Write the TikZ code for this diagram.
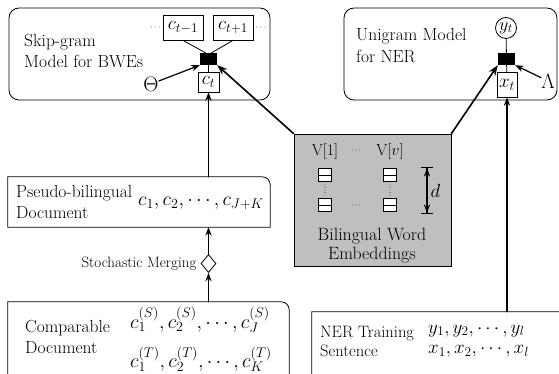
\RequirePackage{fix-cm}
\documentclass[tikz,border=0pt]{standalone}
\usetikzlibrary{arrows.meta, bending, positioning, shapes.geometric}
\tikzset{x=1pt,y=-1pt, >={Stealth[bend]}}

\begin{document}
\begin{tikzpicture}
% Style
[
    font=\fontsize{17.5}{21.5}\selectfont, line cap=round,
    box line/.style={line width=0.8pt},
    model box/.style={draw, box line, rounded corners=10pt, inner sep=0},
    doc box/.style={inner sep=0},
    var box/.style={draw, box line, fill=white, inner sep=0, font=\fontsize{19}{19}\selectfont},
    factor/.style={fill=black, inner sep=0, minimum width=17pt, minimum height=12pt},
    label text/.style={inner sep=0, align=left, anchor=west},
    seq text/.style={label text, font=\fontsize{20}{24}\selectfont},
    param/.style={inner sep=0, font=\fontsize{21}{21}\selectfont},
    feed/.style={->, line width=1.2pt},
    embed link/.style={->, line width=1.6pt},
    small text/.style={inner sep=0, font=\fontsize{15}{16}\selectfont},
    tiny dots/.style={inner sep=0, font=\fontsize{8}{8}\selectfont},
    dot line/.style={line width=0.9pt, dash pattern=on 0pt off 2.6pt, shorten >=3pt, shorten <=3pt},
    vec/.style={draw, fill=white, line width=0.6pt, minimum size=13pt, inner sep=0,
        path picture={\draw (path picture bounding box.west) -- (path picture bounding box.east);}}
]

%=================================== Start ===================================
{
    \useasboundingbox (0,0) rectangle (559,374);
    \clip (0,0) rectangle (559,374);

    % Define: Skip-gram model
    \node[model box, minimum width=261pt, minimum height=92pt] (skipgram) at (139.5,54) {};
    \node[label text] (skipgram text) at (24,51) {Skip-gram\\Model for BWEs};
    \node[var box, minimum width=40pt, minimum height=25pt] (ctm) at (183,27.5) {$c_{t-1}$};
    \node[var box, minimum width=40pt, minimum height=25pt] (ctp) at (233,27.5) {$c_{t+1}$};
    \node[tiny dots, left=2pt of ctm] (ctm dots) {$\cdots$};
    \node[tiny dots, right=2pt of ctp] (ctp dots) {$\cdots$};
    \node[factor] (fS) at (208.5,59) {};
    \node[var box, minimum width=21pt, minimum height=20pt] (ct) at (208.5,82) {$c_t$};
    \node[param] (theta) at (151,84) {$\Theta$};
    \draw[box line] (ctm.south) -- ([xshift=-3pt]fS.north);
    \draw[box line] (ctp.south) -- ([xshift=3pt]fS.north);
    \draw[box line] (ct.north) -- (fS.south);
    \draw[feed] (theta) -- (fS.south west);

    % Define: Unigram model
    \node[model box, minimum width=213pt, minimum height=92pt] (unigram) at (450.5,54) {};
    \node[label text] (unigram text) at (356,45.5) {Unigram Model\\for NER};
    \node[draw, circle, box line, inner sep=0, minimum size=21pt, font=\fontsize{18}{18}\selectfont] (yt) at (506,28) {$y_t$};
    \node[factor] (fN) at (506.5,59) {};
    \node[var box, minimum width=20pt, minimum height=25pt] (xt) at (507,84.5) {$x_t$};
    \node[param] (lambda) at (548,81) {$\Lambda$};
    \draw[box line] (yt) -- (fN);
    \draw[box line] (xt) -- (fN);
    \draw[feed] (lambda) -- (fN.south east);

    % Define: Documents
    \node[doc box, minimum width=262pt, minimum height=50pt] (pseudo) at (139,202) {};
    \node[label text] (pseudo text) at (16,202) {Pseudo-bilingual\\Document};
    \node[seq text] (pseudo seq) at (138,203) {$c_1, c_2, \cdots, c_{J+K}$};

    \node[draw, diamond, box line, inner sep=0, minimum width=15pt, minimum height=18pt] (merge) at (208.5,263.5) {};
    \node[small text, left=4pt of merge] (merge text) {Stochastic Merging};

    \node[doc box, minimum width=281pt, minimum height=120pt] (comparable) at (148.5,362) {};
    \node[label text] (comparable text) at (25,337) {Comparable\\Document};
    \node[seq text] (comparable seq) at (130,339.5)
        {$c_1^{(S)}, c_2^{(S)}, \cdots, c_J^{(S)}$\\[13pt]$c_1^{(T)}, c_2^{(T)}, \cdots, c_K^{(T)}$};

    \node[doc box, minimum width=260pt, minimum height=120pt] (nertrain) at (442,372) {};
    \node[label text, font=\fontsize{16.5}{19}\selectfont] (nertrain text) at (320,341) {NER Training\\Sentence};
    \node[label text, font=\fontsize{19}{20.5}\selectfont] (nertrain seq) at (428,341)
        {$y_1, y_2, \cdots, y_l$\\$x_1, x_2, \cdots, x_l$};

    \foreach \n in {pseudo, comparable, nertrain} {
        \draw[box line] (\n.south west) -- (\n.north west) -- ([xshift=-8pt]\n.north east)
            arc[start angle=90, end angle=0, radius=8pt] -- (\n.south east) -- cycle;
    }

    % Define: Bilingual word embeddings
    \node[draw, box line, fill=gray!50, inner sep=0, minimum width=157pt, minimum height=132pt] (bwe) at (372.5,200) {};
    \node[inner sep=0, font=\fontsize{16}{16}\selectfont] (v1) at (325,152) {V[1]};
    \node[inner sep=0, font=\fontsize{16}{16}\selectfont] (vv) at (390,152) {V[$v$]};
    \node[tiny dots] (top dots) at (356,151) {$\cdots$};
    \foreach \col/\x in {1/325, v/390} {
        \node[vec] (vec\col a) at (\x,175) {};
        \node[vec] (vec\col b) at (\x,205) {};
        \draw[dot line] (vec\col a.south) -- (vec\col b.north);
    }
    \node[tiny dots] (bottom dots) at (356,206) {$\cdots$};
    \coordinate (d top) at (427,167);
    \coordinate (d bottom) at (427,214);
    \draw[{Bar[width=12pt]Stealth[]}-{Stealth[]Bar[width=12pt]}, line width=1.2pt] (d top) -- (d bottom)
        node[midway, right=3pt, inner sep=0, font=\fontsize{19}{19}\selectfont] (d label) {$d$};
    \node[inner sep=0, align=center, font=\fontsize{17.8}{19}\selectfont] (bwe text) at (372,246) {Bilingual Word\\Embeddings};

    % Draw: Links
    \draw[embed link] (bwe.north west) -- (fS.south east);
    \draw[embed link] (bwe.north east) -- (fN.south west);
    \draw[feed] (pseudo.north -| ct) -- (ct.south);
    \draw[feed] (merge.north) -- (merge |- pseudo.south);
    \draw[feed] (comparable.north -| merge) -- (merge.south);
    \draw[feed] (nertrain.north -| xt) -- (xt.south);
}
%==================================== END ====================================

\end{tikzpicture}
\end{document}
